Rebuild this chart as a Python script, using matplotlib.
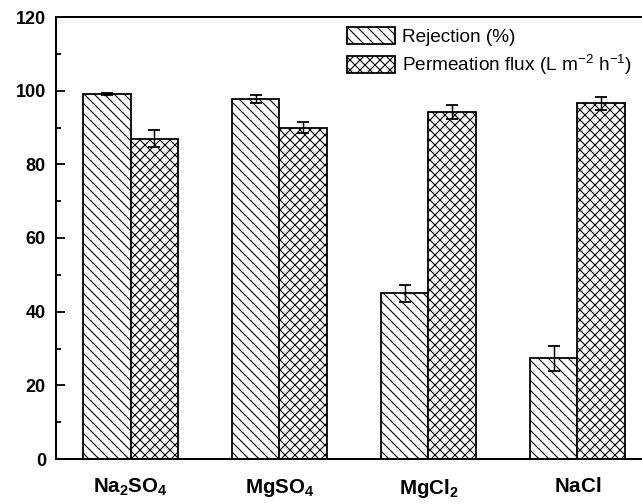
import numpy as np
import matplotlib
matplotlib.use('Agg')
from matplotlib import pyplot as plt

# data
salts = [r'$\mathbf{Na_2SO_4}$', r'$\mathbf{MgSO_4}$', r'$\mathbf{MgCl_2}$', r'$\mathbf{NaCl}$']
rejection = [99.1, 97.7, 45.0, 27.3]
rejection_err = [0.3, 1.0, 2.3, 3.4]
flux = [87.0, 90.0, 94.2, 96.6]
flux_err = [2.4, 1.6, 1.9, 1.8]

DPI = 60
px = 72 / DPI  # points per pixel

plt.rcParams['font.family'] = ['Liberation Sans', 'DejaVu Sans']
plt.rcParams['mathtext.fontset'] = 'custom'
plt.rcParams['mathtext.rm'] = 'Liberation Sans'
plt.rcParams['mathtext.it'] = 'Liberation Sans:italic'
plt.rcParams['mathtext.bf'] = 'Liberation Sans:bold'
plt.rcParams['hatch.linewidth'] = 1.1 * px

fig = plt.figure(figsize=(642 / DPI, 504 / DPI), dpi=DPI)
ax = fig.add_axes([56 / 642, 45 / 504, 596 / 642, 442 / 504])

x = np.arange(1, len(salts) + 1)
w = 0.322

ax.bar(x - w / 2, rejection, w, color='white', edgecolor='black', linewidth=1.8 * px,
       hatch='\\\\', label='Rejection (%)')
ax.bar(x + w / 2, flux, w, color='white', edgecolor='black', linewidth=1.8 * px,
       hatch='xx', label=r'Permeation flux (L m$^{-2}$ h$^{-1}$)')
ax.errorbar(x - w / 2, rejection, yerr=rejection_err, fmt='none', ecolor='black',
            elinewidth=1.5 * px, capsize=6 * px, capthick=1.8 * px)
ax.errorbar(x + w / 2, flux, yerr=flux_err, fmt='none', ecolor='black',
            elinewidth=1.5 * px, capsize=6 * px, capthick=1.8 * px)

ax.set_xlim(0.5, 4.5)
ax.set_ylim(0, 120)
ax.set_yticks(np.arange(0, 121, 20))
ax.set_yticks(np.arange(10, 120, 20), minor=True)
ax.set_xticks(x)
ax.set_xticklabels(salts, fontsize=20.5 * px)
ax.tick_params(axis='x', length=0, pad=18 * px)
ax.tick_params(axis='y', which='major', direction='in', length=9 * px, width=1.8 * px,
               labelsize=18 * px, pad=10 * px)
ax.tick_params(axis='y', which='minor', direction='in', length=5 * px, width=1.8 * px)
for lab in ax.get_yticklabels():
    lab.set_fontweight('bold')
for sp in ax.spines.values():
    sp.set_linewidth(2 * px)

ax.legend(loc='upper left', bbox_to_anchor=(347 / 642, 1 - 27 / 504),
          bbox_transform=fig.transFigure, frameon=False, fontsize=19 * px,
          borderpad=0, borderaxespad=0, handlelength=2.53, handleheight=1.0,
          handletextpad=0.37, labelspacing=0.35)

fig.savefig('out.png', dpi=DPI)
